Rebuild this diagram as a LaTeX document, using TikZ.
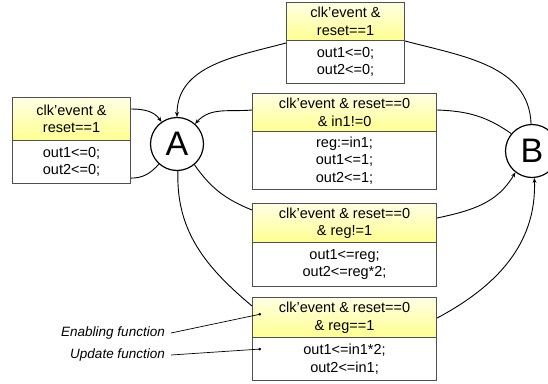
\documentclass[tikz,border=0pt]{standalone}
\usepackage{fontspec}
\setmainfont{Liberation Sans}
\usetikzlibrary{arrows.meta}
\definecolor{ylight}{HTML}{FFFFE4}
\definecolor{ydark}{HTML}{FFFF90}
\definecolor{boxline}{HTML}{505050}
\tikzset{
  guard/.style={draw=boxline, line width=1.1pt, anchor=north west, inner sep=0pt,
    top color=ylight, bottom color=ydark, align=center,
    font=\fontsize{14.5}{17.5}\selectfont},
  action/.style={draw=boxline, line width=1.1pt, anchor=north west, inner sep=0pt,
    fill=white, align=center, font=\fontsize{14.5}{17.5}\selectfont},
  state/.style={circle, draw=black, line width=1.2pt, fill=white, minimum size=53pt,
    inner sep=0pt, font=\fontsize{34}{34}\selectfont},
  wire/.style={line width=0.9pt, draw=black},
  arr/.style={wire, -{Stealth[length=5pt,width=4pt]}},
  note/.style={anchor=east, inner sep=0pt, font=\fontsize{13.5}{16}\selectfont\itshape},
  pointer/.style={line width=0.7pt, -{Circle[length=2.6pt]}}
}
\begin{document}
\begin{tikzpicture}[x=1pt, y=-1pt]
\useasboundingbox (0,0) rectangle (548,383);

% states
\node[state] (A) at (177,144) {A};
\node[state] (B) at (532,151) {B};

% reset on the left of A
\node[action, minimum width=118pt, minimum height=43pt] (lbB) at (12,140) {out1<=0;\\out2<=0;};
\node[guard,  minimum width=118pt, minimum height=43pt] (lbT) at (12,97) {clk’event \&\\reset==1};

% reset from B
\node[action, minimum width=118pt, minimum height=43pt] (tbB) at (286,40) {out1<=0;\\out2<=0;};
\node[guard,  minimum width=118pt, minimum height=38pt] (tbT) at (286,2) {clk’event \&\\reset==1};

% B -> A
\node[action, minimum width=184pt, minimum height=58pt] (b2B) at (252,131) {reg:=in1;\\out1<=1;\\out2<=1;};
\node[guard,  minimum width=184pt, minimum height=38pt] (b2T) at (252,93) {clk’event \& reset==0\\\& in1!=0};

% A -> B, reg!=1
\node[action, minimum width=184pt, minimum height=44pt] (b3B) at (252,242) {out1<=reg;\\out2<=reg*2;};
\node[guard,  minimum width=184pt, minimum height=39pt] (b3T) at (252,203) {clk’event \& reset==0\\\& reg!=1};

% A -> B, reg==1
\node[action, minimum width=184pt, minimum height=43pt] (b4B) at (252,337) {out1<=in1*2;\\out2<=in1;};
\node[guard,  minimum width=184pt, minimum height=40pt] (b4T) at (252,297) {clk’event \& reset==0\\\& reg==1};

% transitions
\draw[arr]  ([yshift=-12pt]lbT.north east) to[out=0, in=125] (A.125);
\draw[wire] (A.228) to[out=228, in=0] ([yshift=6pt]lbB.south east);

\draw[arr]  ([yshift=-3pt]tbB.north west) to[out=195, in=90] (A.north);
\draw[wire] (B.92) to[out=92, in=-15] ([yshift=-1pt]tbB.north east);

\draw[arr]  ([yshift=-17pt]b2T.north west) to[out=185, in=48] (A.48);
\draw[wire] (B.140) to[out=145, in=-2] ([yshift=-17pt]b2T.north east);

\draw[wire] (A.-50) to[out=-55, in=158] ([yshift=-7pt]b3T.north west);
\draw[arr]  ([yshift=-15pt]b3T.north east) to[out=12, in=240] (B.232);

\draw[wire] (A.-88) to[out=-92, in=140] ([yshift=-9pt]b4T.north west);
\draw[arr]  ([yshift=-21pt]b4T.north east) to[out=28, in=-88] (B.-85);

% annotations
\coordinate (en) at (261,314);
\coordinate (up) at (261,349);
\node[note] (enl) at (165,333) {Enabling function};
\node[note] (upl) at (165,355) {Update function};
\draw[pointer] ([xshift=6pt]enl.east) -- (en);
\draw[pointer] ([xshift=6pt]upl.east) -- (up);
\end{tikzpicture}
\end{document}
